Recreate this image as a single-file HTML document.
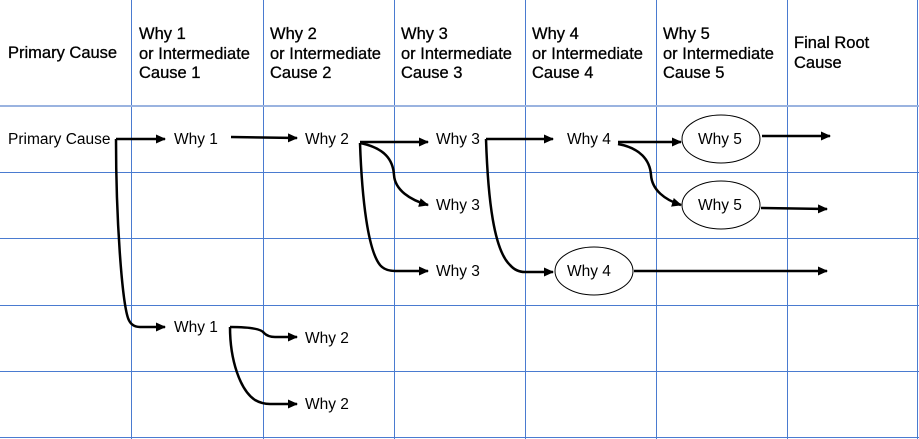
<!DOCTYPE html>
<html><head><meta charset="utf-8"><style>
body{margin:0;background:#fff;width:919px;height:439px;overflow:hidden}
svg{display:block}
text{font-family:"Liberation Sans",sans-serif;font-size:15.5px;fill:#000}
.h text{font-size:16.5px;stroke:#000;stroke-width:0.3px}
</style></head><body>
<svg width="919" height="439" viewBox="0 0 919 439">
<defs><marker id="a" markerWidth="10" markerHeight="10" refX="9" refY="5" orient="auto" markerUnits="userSpaceOnUse"><path d="M0,0.5 L10,5 L0,9.5z" fill="#000"/></marker></defs>
<g stroke="#4a7bd0" stroke-width="1" fill="none">
<line x1="131.5" y1="0" x2="131.5" y2="439"/><line x1="263.5" y1="0" x2="263.5" y2="439"/>
<line x1="394.5" y1="0" x2="394.5" y2="439"/><line x1="525.5" y1="0" x2="525.5" y2="439"/>
<line x1="656.5" y1="0" x2="656.5" y2="439"/><line x1="787.5" y1="0" x2="787.5" y2="439"/>
<line x1="917.5" y1="0" x2="917.5" y2="439"/>
<line x1="0" y1="106" x2="919" y2="106" stroke="#9ab3e0" stroke-width="2"/>
<line x1="0" y1="172.5" x2="919" y2="172.5"/><line x1="0" y1="238.5" x2="919" y2="238.5"/>
<line x1="0" y1="305.5" x2="919" y2="305.5"/><line x1="0" y1="371.5" x2="919" y2="371.5"/>
<line x1="0" y1="437.5" x2="919" y2="437.5"/>
</g>
<g class="h">
<text x="8" y="58">Primary Cause</text>
<text x="139" y="39">Why 1</text><text x="139" y="59">or Intermediate</text><text x="139" y="78">Cause 1</text>
<text x="270" y="39">Why 2</text><text x="270" y="59">or Intermediate</text><text x="270" y="78">Cause 2</text>
<text x="401" y="39">Why 3</text><text x="401" y="59">or Intermediate</text><text x="401" y="78">Cause 3</text>
<text x="532" y="39">Why 4</text><text x="532" y="59">or Intermediate</text><text x="532" y="78">Cause 4</text>
<text x="663" y="39">Why 5</text><text x="663" y="59">or Intermediate</text><text x="663" y="78">Cause 5</text>
<text x="794" y="48">Final Root</text><text x="794" y="68">Cause</text>
</g>
<g fill="#fff" stroke="#000" stroke-width="1">
<ellipse cx="721" cy="139" rx="39" ry="24"/>
<ellipse cx="721" cy="205" rx="39" ry="24"/>
<ellipse cx="594" cy="271" rx="39" ry="24"/>
</g>
<g>
<text x="8" y="144">Primary Cause</text>
<text x="174" y="144">Why 1</text><text x="305" y="144">Why 2</text>
<text x="436" y="144">Why 3</text><text x="567" y="144">Why 4</text>
<text x="698" y="144">Why 5</text><text x="698" y="210">Why 5</text>
<text x="436" y="210">Why 3</text><text x="436" y="276">Why 3</text>
<text x="567" y="276">Why 4</text>
<text x="174" y="332">Why 1</text><text x="305" y="343">Why 2</text><text x="305" y="409">Why 2</text>
</g>
<g stroke="#000" stroke-width="2.5" fill="none" marker-end="url(#a)">
<path d="M116,139 L165,139"/>
<path d="M116,139 C116,220 122,300 128,318 Q131,327 140,327 L165,327"/>
<path d="M231,137 L297,138"/>
<path d="M360,142 L428,142"/>
<path d="M360,143 C385,148 393,160 394,175 C395,190 410,200 428,205"/>
<path d="M360,143 C362,200 368,250 380,265 Q385,271 395,271 L428,271"/>
<path d="M486,139 L553,139"/>
<path d="M486,139 C488,200 494,250 510,265 Q516,272 525,272 L553,272"/>
<path d="M618,142 L681,142"/>
<path d="M618,144 C640,148 650,160 651,175 C652,190 665,200 681,205"/>
<path d="M762,136 L830,136"/>
<path d="M761,208 L827,209"/>
<path d="M634,271 L827,271"/>
<path d="M230,327 C255,327 262,330 264,333 Q268,337 275,337 L297,337"/>
<path d="M230,327 C230,360 240,390 255,400 Q262,404 270,404 L297,404"/>
</g>
</svg>
</body></html>
